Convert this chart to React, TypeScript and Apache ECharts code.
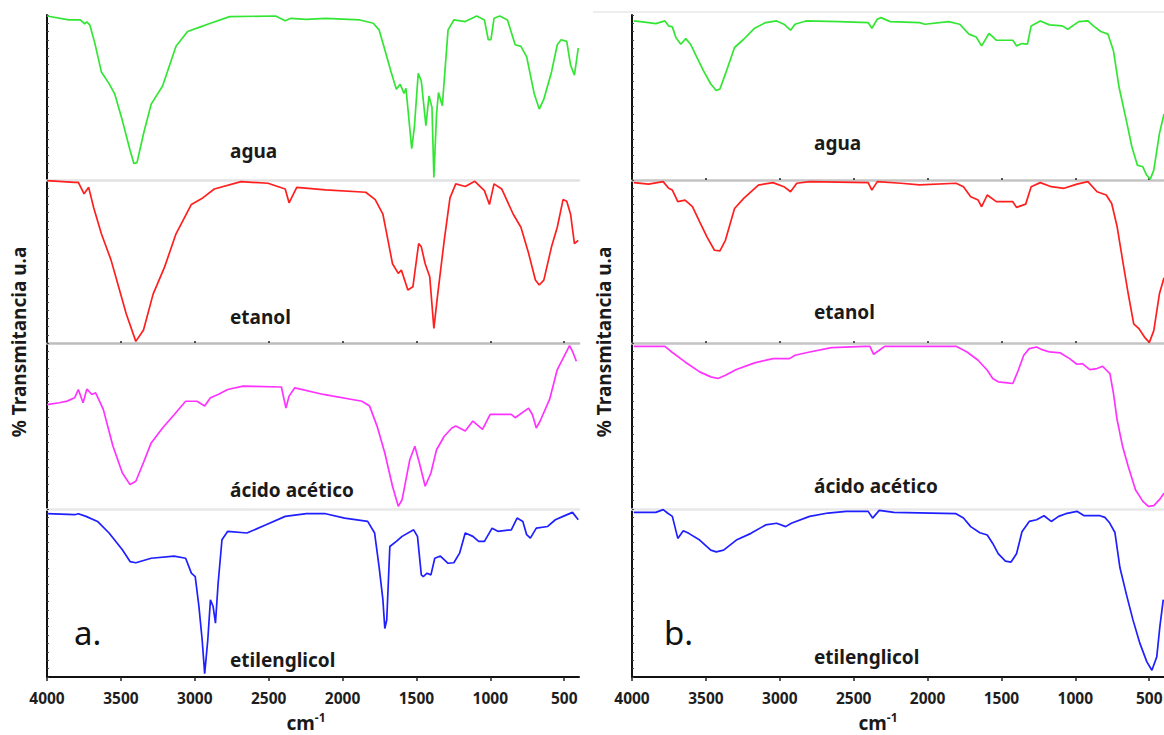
import React, { useEffect, useRef } from "react";
import * as echarts from "echarts";

// ---------- data ----------
const xTickValues = [4000, 3500, 3000, 2500, 2000, 1500, 1000, 500];
const sampleNames = ["agua", "etanol", "ácido acético", "etilenglicol"];
const panelNames = ["a.", "b."];
const yTitle = "% Transmitancia u.a";
const seriesColors = ["#33e633", "#ff1f1f", "#ff33ff", "#1f1fff"];

// panel a (wavenumber cm-1, relative transmittance within its band 0-100)
const aguaA: number[][] = [
  [4000, 99.4], [3852, 97], [3775, 97], [3745, 94.7], [3730, 95.8], [3710, 93.9], [3676, 82.8], [3632, 65.5],
  [3580, 58.4], [3541, 52], [3490, 36], [3438, 18], [3412, 10], [3391, 10.5], [3347, 28], [3295, 46],
  [3218, 57], [3127, 81], [3049, 90], [2971, 92.5], [2894, 95], [2764, 99], [2453, 99.4], [2388, 96.5],
  [2349, 98], [2245, 97.4], [2115, 98], [1882, 97], [1792, 95], [1753, 91], [1714, 79], [1675, 66.5],
  [1636, 55], [1610, 58], [1584, 52.5], [1571, 55.6], [1532, 19], [1514, 32], [1488, 64.6], [1467, 60],
  [1436, 33], [1415, 51], [1395, 44], [1382, 1.6], [1364, 40], [1351, 53], [1325, 45], [1286, 91],
  [1247, 97], [1170, 96], [1092, 99.4], [1040, 97], [1014, 85], [996, 85], [975, 98], [936, 99.4],
  [884, 97], [832, 82], [793, 81], [754, 74.6], [703, 52.3], [669, 43], [638, 49], [586, 65.5],
  [547, 82], [521, 85], [483, 84], [457, 69.6], [431, 63.5], [405, 80],
];
const etanolA: number[][] = [
  [4000, 99.6], [3813, 98.6], [3788, 98.6], [3749, 91.5], [3718, 95.5], [3684, 83], [3632, 67], [3567, 51],
  [3516, 34.6], [3464, 18], [3399, 1], [3347, 8], [3282, 30], [3204, 46.7], [3127, 67], [3023, 85],
  [2946, 89], [2868, 94.5], [2687, 99], [2505, 98], [2388, 94.5], [2362, 86], [2310, 95.5], [2115, 94],
  [1843, 92.5], [1779, 88], [1727, 79], [1701, 67], [1662, 48.6], [1623, 42.7], [1602, 44.7], [1558, 32.5],
  [1524, 34.5], [1485, 61], [1467, 59], [1441, 48.6], [1410, 40.6], [1382, 9], [1358, 28.5], [1312, 63],
  [1273, 89], [1234, 97.6], [1170, 96], [1105, 99.2], [1040, 93.5], [1006, 85], [975, 97.6], [923, 94.5],
  [845, 79], [793, 71], [741, 55], [695, 38.6], [669, 35.6], [638, 38.6], [586, 59], [547, 71],
  [508, 88], [483, 87], [457, 79], [431, 61], [405, 63],
];
const acetA: number[][] = [
  [4000, 62.9], [3917, 64], [3864, 65], [3813, 67], [3788, 72], [3756, 64], [3730, 72.3], [3697, 69],
  [3671, 70], [3619, 60], [3554, 38], [3490, 21.7], [3438, 14.7], [3399, 16.7], [3347, 28], [3295, 39.8],
  [3218, 48.8], [3140, 56.8], [3062, 64.9], [2985, 64.9], [2933, 62], [2894, 67], [2842, 69], [2777, 72],
  [2673, 74], [2414, 73.5], [2383, 60.8], [2362, 68], [2323, 73], [2129, 69], [1869, 64.9], [1817, 62],
  [1766, 49.8], [1714, 33.7], [1662, 13.7], [1623, 1.6], [1597, 5.6], [1545, 29.7], [1511, 37.8], [1480, 27.7],
  [1441, 13.7], [1402, 21.7], [1364, 35.7], [1312, 43.8], [1260, 48.8], [1234, 50], [1170, 47], [1118, 53],
  [1053, 48], [1001, 57], [858, 57], [832, 55], [741, 60.8], [715, 56.8], [689, 48.8], [663, 53],
  [599, 66], [547, 84], [495, 93], [464, 98.4], [444, 95], [418, 89],
];
const etilA: number[][] = [
  [4000, 97.2], [3813, 96.6], [3788, 97.2], [3736, 95.6], [3658, 92.6], [3580, 85.7], [3490, 75.7], [3438, 68.7],
  [3399, 68], [3295, 70.7], [3140, 72], [3062, 70.7], [3023, 61.8], [2997, 59.8], [2972, 42], [2950, 22],
  [2933, 2], [2912, 22], [2894, 46], [2876, 42], [2860, 32], [2842, 55.8], [2816, 81.7], [2777, 86.7],
  [2647, 85.7], [2518, 90.6], [2388, 95.6], [2245, 97.2], [2115, 97.2], [1986, 94.6], [1830, 92.6], [1783, 85.7],
  [1753, 65.7], [1727, 46], [1714, 28.9], [1701, 33.9], [1680, 77.7], [1636, 80.7], [1597, 83.7], [1519, 87.6],
  [1493, 83.7], [1467, 60.8], [1454, 59.8], [1428, 61.8], [1402, 60.8], [1376, 70.7], [1338, 72], [1286, 67.7],
  [1247, 68], [1208, 73.7], [1170, 85.7], [1118, 83.7], [1079, 80.7], [1040, 80.7], [988, 88.6], [949, 86.7],
  [858, 87.6], [819, 94.6], [780, 92.6], [754, 84.7], [729, 82.7], [689, 88.6], [612, 89.6], [560, 93.6],
  [508, 95.6], [444, 98], [405, 93.6],
];

// panel b
const aguaB: number[][] = [
  [3988, 96.4], [3888, 95.4], [3839, 94.8], [3777, 96.4], [3752, 93.4], [3727, 92.8], [3703, 86.3], [3670, 82.3],
  [3636, 85.7], [3604, 82.3], [3566, 75.3], [3517, 66.3], [3467, 58.2], [3430, 54.2], [3405, 55.2], [3368, 64.3],
  [3306, 80.3], [3244, 85.3], [3170, 92], [3096, 95.4], [3021, 96.4], [2972, 94.4], [2927, 90.8], [2897, 94.4],
  [2823, 96.4], [2600, 96], [2402, 95.4], [2377, 92], [2340, 97.4], [2315, 98.4], [2253, 96], [2055, 95.4],
  [2018, 94.4], [1857, 96], [1782, 94.4], [1720, 88.4], [1671, 86.7], [1634, 81.3], [1584, 88.8], [1535, 84.7],
  [1423, 84.7], [1398, 81.3], [1361, 82.7], [1324, 82.3], [1299, 93.4], [1237, 96.4], [1175, 94], [1089, 93.4],
  [1051, 91.4], [977, 96], [915, 96.4], [878, 93.4], [828, 90], [779, 88.4], [742, 78.3], [704, 56.2],
  [655, 36.1], [617, 20], [580, 9], [543, 8], [518, 3], [493, 0.5], [469, 6], [431, 28.1], [400, 40],
];
const etanolB: number[][] = [
  [3988, 98.4], [3888, 97.5], [3789, 99], [3752, 94.9], [3727, 93.8], [3690, 86.7], [3641, 87.7], [3591, 83.6],
  [3542, 74.3], [3492, 65], [3442, 56.9], [3405, 56.5], [3368, 63], [3306, 82.5], [3244, 88.7], [3145, 96.9],
  [3046, 98.4], [2972, 95.9], [2927, 92.8], [2885, 98], [2798, 99], [2402, 98.4], [2377, 93.8], [2340, 99],
  [2179, 98], [2055, 97], [1807, 98], [1757, 95.9], [1708, 89.7], [1658, 87.7], [1634, 83.6], [1596, 90.8],
  [1535, 86.7], [1423, 86.7], [1398, 83.2], [1336, 85.2], [1299, 95.9], [1237, 98.4], [1163, 95.9], [1076, 94.9],
  [989, 97.5], [915, 99], [853, 92.8], [791, 90.8], [754, 85.6], [717, 71.3], [680, 50.7], [642, 30.2],
  [605, 11.7], [568, 8.6], [531, 3.5], [499, 0.4], [469, 7.6], [431, 30.2], [400, 40],
];
const acetB: number[][] = [
  [3988, 98], [3777, 98], [3740, 95.2], [3641, 88.6], [3542, 82.6], [3467, 79.6], [3418, 78.6], [3368, 80.6],
  [3294, 84], [3170, 88], [3046, 90.6], [2934, 90.6], [2897, 92.6], [2798, 94.6], [2650, 97.2], [2427, 98],
  [2390, 98], [2365, 93.2], [2327, 95.6], [2290, 98], [1807, 98], [1733, 94.6], [1658, 89.6], [1596, 83.6],
  [1559, 78.6], [1522, 76.6], [1460, 76], [1423, 75.6], [1386, 83.6], [1349, 92.6], [1312, 96.6], [1262, 97.6],
  [1225, 96], [1175, 94.6], [1101, 94], [1039, 90.6], [989, 87.2], [952, 87.6], [902, 84], [853, 84.6],
  [816, 86], [766, 81.6], [742, 69.6], [717, 53.6], [680, 37.6], [642, 25.6], [593, 11.6], [543, 4.6],
  [506, 1.6], [469, 2], [431, 5.6], [400, 9.5],
];
const etilB: number[][] = [
  [3988, 98], [3839, 98], [3789, 99.6], [3760, 97.6], [3727, 95.6], [3690, 82.5], [3653, 87.1], [3616, 85.5],
  [3542, 81.5], [3467, 75.5], [3430, 74.5], [3380, 75.5], [3294, 81.5], [3195, 85.5], [3096, 90.5], [3021, 91.5],
  [2960, 89.5], [2922, 91.5], [2798, 95.6], [2674, 97.6], [2550, 98.6], [2402, 98.6], [2372, 94.6], [2327, 99.2],
  [2228, 98], [1807, 97.2], [1757, 94.6], [1708, 89.5], [1646, 85.9], [1596, 84.5], [1559, 79.5], [1522, 73.4],
  [1473, 69], [1435, 68.4], [1398, 73.4], [1361, 86.5], [1312, 92.6], [1262, 93.6], [1212, 96], [1163, 92.6],
  [1113, 95.6], [1064, 97.2], [989, 98.6], [940, 96], [865, 96], [833, 96], [800, 95], [770, 92],
  [732, 86], [698, 65], [651, 48], [610, 34], [563, 20], [516, 9], [482, 4], [449, 12],
  [428, 30], [405, 46],
];

const panelData = [
  [aguaA, etanolA, acetA, etilA],
  [aguaB, etanolB, acetB, etilB],
];

// ---------- layout ----------
const bandTops = [15, 180, 343, 509];
const bandHeights = [165, 163, 166, 168];
const panelLefts = [47, 632];
const panelWidth = 532;
const sepColors = ["#e2e2e2", "#bdbdbd", "#e8e8e8"];
const sepColorsB = ["#c4c4c4", "#c4c4c4", "#e8e8e8"];

export default function App() {
  const ref = useRef<HTMLDivElement>(null);

  useEffect(() => {
    if (!ref.current) return;
    const chart = echarts.init(ref.current, undefined, { renderer: "svg" });

    const grids: any[] = [];
    const xAxes: any[] = [];
    const yAxes: any[] = [];
    const series: any[] = [];
    const graphics: any[] = [];

    panelData.forEach((curves, p) => {
      curves.forEach((data, b) => {
        const idx = grids.length;
        const isBottom = b === 3;
        grids.push({
          left: panelLefts[p],
          width: panelWidth,
          top: bandTops[b],
          height: bandHeights[b],
          containLabel: false,
          outerBoundsMode: "none",
        });
        xAxes.push({
          type: "value",
          gridIndex: idx,
          min: 400,
          max: 4000,
          inverse: true,
          axisLine: {
            show: true,
            onZero: false,
            lineStyle: isBottom
              ? { color: "#111", width: 2 }
              : { color: (p === 0 ? sepColors : sepColorsB)[b], width: 2.5 },
          },
          axisTick: {
            show: isBottom || (p === 0 ? b === 1 : b < 2),
            customValues: xTickValues,
            length: isBottom ? 4 : 2,
            inside: !isBottom,
            lineStyle: { color: "#222", width: 1.5 },
          },
          axisLabel: {
            show: isBottom,
            customValues: xTickValues,
            formatter: (v: number) => String(v),
            margin: 13,
            fontFamily: "Noto Sans",
            fontWeight: "bold",
            fontSize: 15.5,
            color: "#1e1e1e",
          },
          splitLine: { show: false },
        });
        yAxes.push({
          type: "value",
          gridIndex: idx,
          min: 0,
          max: 100,
          interval: 5,
          axisLine: { show: true, lineStyle: { color: "#111", width: 2 } },
          axisTick: { show: true, inside: true, length: 2, lineStyle: { color: "#444" } },
          axisLabel: { show: false },
          splitLine: { show: false },
        });
        series.push({
          type: "line",
          xAxisIndex: idx,
          yAxisIndex: idx,
          data,
          showSymbol: false,
          symbol: "none",
          lineStyle: { color: seriesColors[b], width: 1.7 },
          itemStyle: { color: seriesColors[b] },
          z: 3,
        });
      });
    });

    const labelPos = [
      [[230, 151], [230, 317], [230, 490], [230, 660]],
      [[814, 143], [814, 312], [814, 486], [814, 657]],
    ];
    labelPos.forEach((arr, p) =>
      arr.forEach(([x, y], b) =>
        graphics.push({
          type: "text",
          x,
          y,
          z: 10,
          style: {
            text: sampleNames[b],
            fill: "#1a1a1a",
            font: "bold 19px 'Noto Sans'",
            textAlign: "left",
            textVerticalAlign: "middle",
          },
        })
      )
    );
    [[74, 632], [664, 632]].forEach(([x, y], p) =>
      graphics.push({
        type: "text",
        x,
        y,
        z: 10,
        style: {
          text: panelNames[p],
          fill: "#111",
          font: "33px 'Noto Sans'",
          textAlign: "left",
          textVerticalAlign: "middle",
        },
      })
    );
    [19, 604].forEach((x) =>
      graphics.push({
        type: "text",
        x,
        y: 342,
        rotation: Math.PI / 2,
        z: 10,
        style: {
          text: yTitle,
          fill: "#1a1a1a",
          font: "bold 19px 'Noto Sans'",
          textAlign: "center",
          textVerticalAlign: "middle",
        },
      })
    );
    [306, 878].forEach((x) =>
      graphics.push({
        type: "text",
        x,
        y: 723,
        z: 10,
        style: {
          text: "{a|cm}{b|-1}",
          textAlign: "center",
          textVerticalAlign: "middle",
          rich: {
            a: { font: "bold 19px 'Noto Sans'", fill: "#1a1a1a" },
            b: { font: "bold 12px 'Noto Sans'", fill: "#1a1a1a", padding: [0, 0, 11, 0] },
          },
        },
      })
    );
    graphics.push({
      type: "line",
      shape: { x1: 593, y1: 12, x2: 1164, y2: 12 },
      style: { stroke: "#dcdcdc", lineWidth: 1 },
    });

    chart.setOption({
      animation: false,
      backgroundColor: "#ffffff",
      grid: grids,
      xAxis: xAxes,
      yAxis: yAxes,
      series,
      graphic: graphics,
    });

    return () => chart.dispose();
  }, []);

  return (
    <div
      ref={ref}
      style={{ position: "fixed", left: 0, top: 0, width: 1164, height: 735 }}
    />
  );
}
